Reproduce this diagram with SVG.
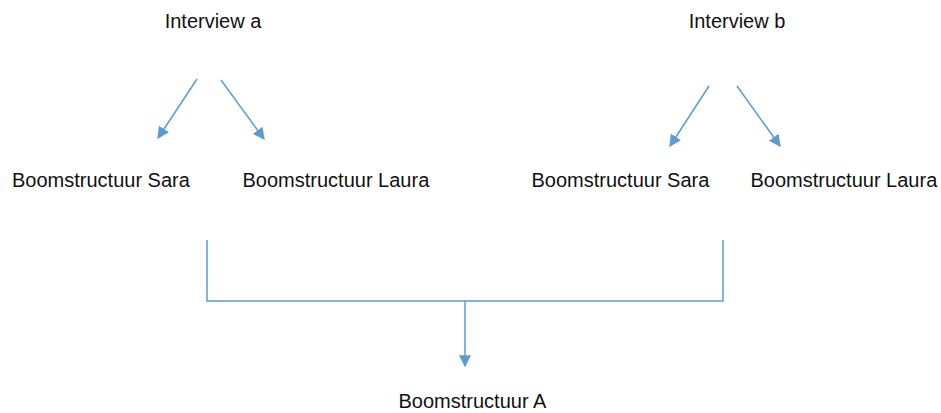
<svg xmlns="http://www.w3.org/2000/svg" width="941" height="413" viewBox="0 0 941 413">
  <style>
    .lbl { font-family: "Liberation Sans", Arial, sans-serif; font-size: 20px; fill: #111; }
    .conn { stroke: #5B9BD5; stroke-width: 1.5; fill: none; }
  </style>
  <defs>
    <marker id="arrowL" viewBox="0 0 10 10" refX="9" refY="5" markerWidth="12" markerHeight="12" markerUnits="userSpaceOnUse" orient="auto">
      <path d="M0,0 L10,5 L0,10 z" fill="#5B9BD5"/>
    </marker>
  </defs>

  <g id="interview-a"><text class="lbl" x="213" y="28" text-anchor="middle">Interview a</text></g>
  <g id="interview-b"><text class="lbl" x="737" y="28" text-anchor="middle">Interview b</text></g>
  <g id="sara-a"><text class="lbl" x="12" y="187">Boomstructuur Sara</text></g>
  <g id="laura-a"><text class="lbl" x="242.5" y="187">Boomstructuur Laura</text></g>
  <g id="sara-b"><text class="lbl" x="531.5" y="187">Boomstructuur Sara</text></g>
  <g id="laura-b"><text class="lbl" x="750.5" y="187">Boomstructuur Laura</text></g>
  <g id="boom-a"><text class="lbl" x="398.5" y="408">Boomstructuur A</text></g>

  <g id="connectors">
    <line class="conn" x1="197" y1="79" x2="158" y2="138" marker-end="url(#arrowL)"/>
    <line class="conn" x1="221" y1="80" x2="264" y2="139" marker-end="url(#arrowL)"/>
    <line class="conn" x1="709" y1="86" x2="670" y2="146" marker-end="url(#arrowL)"/>
    <line class="conn" x1="737" y1="86" x2="780" y2="146" marker-end="url(#arrowL)"/>
    <polyline class="conn" points="207,240 207,301 723,301 723,240"/>
    <line class="conn" x1="465" y1="301" x2="465" y2="366" marker-end="url(#arrowL)"/>
  </g>
</svg>
